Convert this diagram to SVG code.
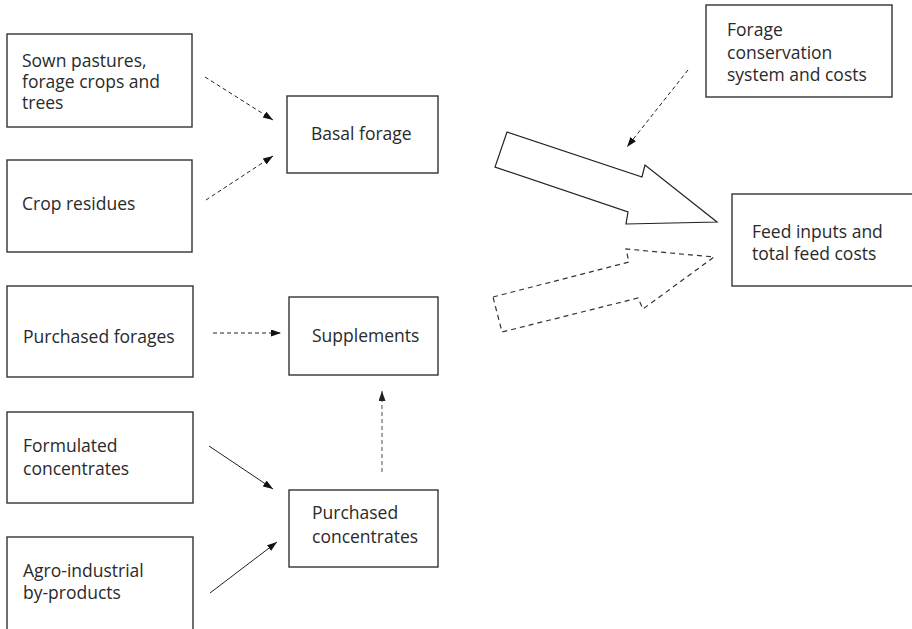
<svg xmlns="http://www.w3.org/2000/svg" width="912" height="629" viewBox="0 0 912 629">
  <defs>
    <marker id="head" markerUnits="userSpaceOnUse" markerWidth="11" markerHeight="8" refX="10" refY="3.5" orient="auto">
      <path d="M0,0 L10,3.5 L0,7 z" fill="#111"/>
    </marker>
    <marker id="head-grey" markerUnits="userSpaceOnUse" markerWidth="11" markerHeight="8" refX="10" refY="3.5" orient="auto">
      <path d="M0,0 L10,3.5 L0,7 z" fill="#222"/>
    </marker>
  </defs>
  <style>
    .box { fill: #fff; stroke: #333; stroke-width: 1.4; }
    .label { font-family: "Open Sans", "Noto Sans", "Liberation Sans", sans-serif; font-size: 17.5px; fill: #2a2a2a; }
    .dash { fill: none; stroke: #222; stroke-width: 1; stroke-dasharray: 4 3; }
    .dash-grey { fill: none; stroke: #777; stroke-width: 1.3; stroke-dasharray: 4 3; }
    .solid { fill: none; stroke: #222; stroke-width: 1; }
    .block { fill: #fff; stroke: #222; stroke-width: 1.2; stroke-linejoin: miter; }
    .block-dash { fill: #fff; stroke: #333; stroke-width: 1.2; stroke-dasharray: 5 4; }
  </style>

  <rect width="912" height="629" fill="#fff"/>

  <!-- connectors -->
  <g id="connectors">
    <line class="dash" x1="205" y1="77" x2="273" y2="120" marker-end="url(#head)"/>
    <line class="dash" x1="206" y1="200" x2="273" y2="156" marker-end="url(#head)"/>
    <line class="dash" x1="688" y1="70" x2="627" y2="147" marker-end="url(#head)"/>
    <line class="dash" x1="213" y1="333" x2="281" y2="333" marker-end="url(#head)"/>
    <line class="dash-grey" x1="382" y1="472" x2="382" y2="391" marker-end="url(#head-grey)"/>
    <line class="solid" x1="209" y1="446" x2="273" y2="489" marker-end="url(#head)"/>
    <line class="solid" x1="210" y1="593" x2="277" y2="542" marker-end="url(#head)"/>
    <polygon class="block" points="507,132 642,177 645,165 717,222 626,224 628,212 495,167"/>
    <polygon class="block-dash" points="493,297 629,262 626,249 714,257 643,309 638,298 502,332"/>
  </g>

  <g id="sown-pastures">
    <rect class="box" x="7" y="34" width="185" height="93"/>
    <text class="label" x="22" y="67">Sown pastures,</text>
    <text class="label" x="22" y="88">forage crops and</text>
    <text class="label" x="22" y="109">trees</text>
  </g>

  <g id="crop-residues">
    <rect class="box" x="7" y="160" width="185" height="92"/>
    <text class="label" x="22" y="210">Crop residues</text>
  </g>

  <g id="purchased-forages">
    <rect class="box" x="7" y="286" width="186" height="91"/>
    <text class="label" x="23" y="343">Purchased forages</text>
  </g>

  <g id="formulated-concentrates">
    <rect class="box" x="7" y="412" width="186" height="91"/>
    <text class="label" x="23" y="452">Formulated</text>
    <text class="label" x="23" y="475">concentrates</text>
  </g>

  <g id="agro-industrial">
    <rect class="box" x="7" y="537" width="186" height="95"/>
    <text class="label" x="23" y="577">Agro-industrial</text>
    <text class="label" x="23" y="599">by-products</text>
  </g>

  <g id="basal-forage">
    <rect class="box" x="287" y="96" width="151" height="77"/>
    <text class="label" x="311" y="140">Basal forage</text>
  </g>

  <g id="supplements">
    <rect class="box" x="289" y="297" width="149" height="78"/>
    <text class="label" x="312" y="342">Supplements</text>
  </g>

  <g id="purchased-concentrates">
    <rect class="box" x="289" y="490" width="149" height="77"/>
    <text class="label" x="312" y="519">Purchased</text>
    <text class="label" x="312" y="543">concentrates</text>
  </g>

  <g id="forage-conservation">
    <rect class="box" x="706" y="5" width="186" height="92"/>
    <text class="label" x="727" y="36">Forage</text>
    <text class="label" x="727" y="59">conservation</text>
    <text class="label" x="727" y="81">system and costs</text>
  </g>

  <g id="feed-inputs">
    <rect class="box" x="732" y="194" width="190" height="92"/>
    <text class="label" x="752" y="238">Feed inputs and</text>
    <text class="label" x="752" y="260">total feed costs</text>
  </g>
</svg>
